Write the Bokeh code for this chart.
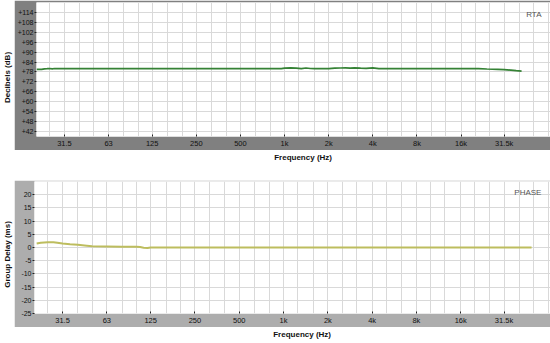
import math
from bokeh.plotting import figure
from bokeh.models import FixedTicker, Range1d, Label
from bokeh.layouts import row, column
from bokeh.embed import file_html
from bokeh.resources import INLINE

# ---------------- data ----------------
freq_ticks = [31.5, 63, 125, 250, 500, 1000, 2000, 4000, 8000, 16000, 31500]
freq_tick_labels = ["31.5", "63", "125", "250", "500", "1k", "2k", "4k", "8k", "16k", "31.5k"]
third_octave_grid = [20, 25, 31.5, 40, 50, 63, 80, 100, 125, 160, 200, 250, 315, 400, 500,
                     630, 800, 1000, 1250, 1600, 2000, 2500, 3150, 4000, 5000, 6300, 8000,
                     10000, 12500, 16000, 20000, 25000, 31500, 40000, 50000, 63000]

db_ticks = [42, 48, 54, 60, 66, 72, 78, 84, 90, 96, 102, 108, 114]
db_tick_labels = ["+42", "+48", "+54", "+60", "+66", "+72", "+78", "+84", "+90", "+96",
                  "+102", "+108", "+114"]
gd_ticks = [-25, -20, -15, -10, -5, 0, 5, 10, 15, 20]
gd_tick_labels = ["-25", "-20", "-15", "-10", "-5", "0", "5", "10", "15", "20"]

rta_freq = [20.3, 21, 22, 23, 24, 25, 26, 27, 28, 30, 35, 40, 50, 63, 80, 100, 125, 160, 200,
            250, 315, 400, 500, 630, 800, 950, 1000, 1100, 1200, 1300, 1400, 1500, 1600,
            1800, 2000, 2200, 2400, 2600, 2800, 3000, 3300, 3600, 4000, 4400, 5000, 6300,
            8000, 10000, 12500, 16000, 18000, 21000, 24000, 28500, 31500, 35000, 38000, 41400]
rta_db = [79.6, 79.6, 79.6, 79.9, 80.0, 80.1, 79.9, 80.1, 80.0, 80.0, 80.0, 80.0, 80.0, 80.0,
          80.0, 80.0, 80.0, 80.0, 80.0, 80.0, 80.0, 80.0, 80.0, 80.0, 80.0, 80.0, 80.3, 80.5,
          80.3, 80.0, 80.4, 80.1, 80.0, 80.0, 80.0, 80.3, 80.4, 80.5, 80.3, 80.5, 80.3, 80.2,
          80.5, 80.0, 80.0, 80.0, 80.0, 80.0, 80.0, 80.0, 80.0, 80.0, 79.8, 79.6, 79.4, 79.1,
          78.8, 78.5]

gd_freq = [21, 22.4, 25, 27.3, 29, 31.5, 35.4, 40, 46, 50, 63, 80, 100, 106, 112, 119, 125,
           250, 1000, 4000, 16000, 48500]
gd_ms = [1.5, 1.8, 2.0, 2.0, 1.8, 1.5, 1.2, 1.0, 0.7, 0.5, 0.4, 0.3, 0.3, 0.2, -0.1, -0.2,
         0.0, 0.0, 0.0, 0.0, 0.0, 0.0]

FONT = "Liberation Sans"
GRID = "#d9d9d9"


def make_panel(height, top_border, bottom_border, gray, y_range, y_ticks, y_labels,
               xs, ys, color, lw, tag, tag_y):
    p = figure(width=536, height=height, x_axis_type="log",
               x_range=Range1d(20.3, 65200), y_range=Range1d(*y_range),
               output_backend="svg", toolbar_location=None,
               min_border_left=20, min_border_right=0,
               min_border_top=top_border, min_border_bottom=bottom_border)
    p.border_fill_color = gray
    p.background_fill_color = "white"
    p.outline_line_color = None

    p.xaxis.ticker = FixedTicker(ticks=freq_ticks)
    p.xaxis.major_label_overrides = {t: l for t, l in zip(freq_ticks, freq_tick_labels)}
    p.yaxis.ticker = FixedTicker(ticks=y_ticks)
    p.yaxis.major_label_overrides = {t: l for t, l in zip(y_ticks, y_labels)}
    p.axis.axis_line_color = None
    p.axis.minor_tick_line_color = None
    p.axis.major_tick_line_color = "#222222"
    p.axis.major_label_text_font = FONT
    p.axis.major_label_text_font_size = "7px"
    p.axis.major_label_text_color = "#111111"
    p.xaxis.major_label_text_font_size = "7.5px"
    p.xaxis.major_tick_in = 2
    p.xaxis.major_tick_out = 0
    p.xaxis.major_label_standoff = 2
    p.yaxis.major_tick_in = 0
    p.yaxis.major_tick_out = 2
    p.yaxis.major_label_standoff = 1

    p.xgrid.ticker = FixedTicker(ticks=third_octave_grid)
    p.ygrid.ticker = FixedTicker(ticks=y_ticks)
    p.grid.grid_line_color = GRID
    p.grid.grid_line_width = 1

    p.line(xs, ys, line_color=color, line_width=lw)

    p.add_layout(Label(x=56600, y=tag_y, text=tag, text_align="right",
                       text_baseline="top", text_font=FONT, text_font_size="8px",
                       text_color="#555555"))
    return p


def side_label(height, text, yc):
    q = figure(width=14, height=height, x_range=Range1d(0, 14), y_range=Range1d(height, 0),
               output_backend="svg", toolbar_location=None, min_border=0)
    q.axis.visible = False
    q.grid.visible = False
    q.outline_line_color = None
    q.background_fill_color = "white"
    q.border_fill_color = "white"
    q.add_layout(Label(x=7, y=yc, text=text, angle=math.pi / 2, text_align="center",
                       text_baseline="middle", text_font=FONT, text_font_size="8px",
                       text_font_style="bold", text_color="#111111"))
    return q


def bottom_label(height, yc):
    q = figure(width=536, height=height, x_range=Range1d(0, 536), y_range=Range1d(height, 0),
               output_backend="svg", toolbar_location=None, min_border=0)
    q.axis.visible = False
    q.grid.visible = False
    q.outline_line_color = None
    q.background_fill_color = "white"
    q.border_fill_color = "white"
    q.add_layout(Label(x=278, y=yc, text="Frequency (Hz)", text_align="center",
                       text_baseline="middle", text_font=FONT, text_font_size="8px",
                       text_font_style="bold", text_color="#111111"))
    return q


top = make_panel(150, 2, 11, "#808080", (39, 120), db_ticks, db_tick_labels,
                 rta_freq, rta_db, "#358235", 1.7, "RTA", 115.5)
bot = make_panel(147, 1, 10, "#adadad", (-25, 25), gd_ticks, gd_tick_labels,
                 gd_freq, gd_ms, "#bdbd5e", 2, "PHASE", 22.5)

layout = column(
    row(side_label(180, "Decibels (dB)", 77), column(top, bottom_label(30, 7))),
    row(side_label(163, "Group Delay (ms)", 74), column(bot, bottom_label(16, 7))),
)

open("out.html", "w").write(file_html(layout, INLINE))
